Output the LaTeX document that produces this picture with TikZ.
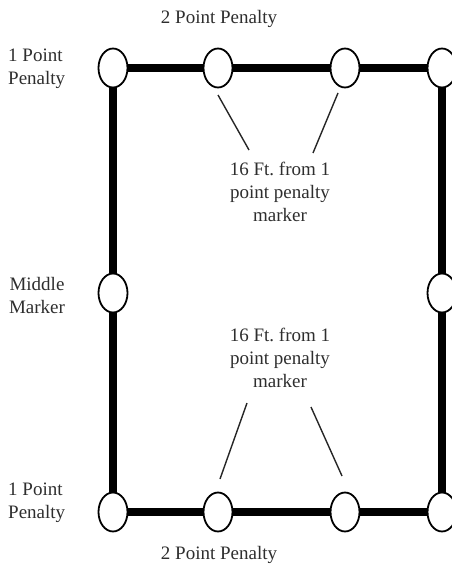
\documentclass[tikz,border=0pt]{standalone}
\usepackage{fontspec}
\setmainfont{Liberation Serif}
\usetikzlibrary{shapes.geometric,backgrounds}
\frenchspacing
\begin{document}
\begin{tikzpicture}[x=1pt,y=-1pt,
  marker/.style={ellipse, draw=black, line width=1.8pt, fill=white, minimum width=29pt, minimum height=39pt, inner sep=0pt},
  border/.style={line width=8.5pt, line cap=rect},
  lbl/.style={font=\fontsize{19}{23}\selectfont, text=black!82, inner sep=0pt},
  pointer/.style={line width=1.4pt, black!85}]
\useasboundingbox (0,0) rectangle (451,567);
% markers
\node[marker] (tl) at (113,68) {};
\node[marker] (t1) at (218,68) {};
\node[marker] (t2) at (345,68) {};
\node[marker] (tr) at (442,68) {};
\node[marker] (ml) at (113,293) {};
\node[marker] (mr) at (442,293) {};
\node[marker] (bl) at (113,512) {};
\node[marker] (b1) at (218,512) {};
\node[marker] (b2) at (345,512) {};
\node[marker] (br) at (442,512) {};
\begin{pgfonlayer}{background}
\draw[border] (tl.center) -- (tr.center) -- (br.center) -- (bl.center) -- cycle;
\end{pgfonlayer}
% labels
\node[lbl] (toplbl) at (219,19) {2 Point Penalty};
\node[lbl] (botlbl) at (219,555) {2 Point Penalty};
\node[lbl, align=left, anchor=west] (tlone) at (8,69) {1 Point\\Penalty};
\node[lbl, align=left, anchor=west] (blone) at (8,503) {1 Point\\Penalty};
\node[lbl, align=center] (midlbl) at (37,295) {Middle\\Marker};
\node[lbl, align=center] (up16) at (280,192) {16 Ft. from 1\\point penalty\\marker};
\node[lbl, align=center] (lo16) at (280,358) {16 Ft. from 1\\point penalty\\marker};
% pointers
\coordinate (pa1) at (218,95);  \coordinate (pa2) at (249,150);
\coordinate (pb1) at (338,93);  \coordinate (pb2) at (313,153);
\coordinate (pc1) at (247,403); \coordinate (pc2) at (220,479);
\coordinate (pd1) at (311,407); \coordinate (pd2) at (342,476);
\draw[pointer] (pa1) -- (pa2);
\draw[pointer] (pb1) -- (pb2);
\draw[pointer] (pc1) -- (pc2);
\draw[pointer] (pd1) -- (pd2);
\end{tikzpicture}
\end{document}
